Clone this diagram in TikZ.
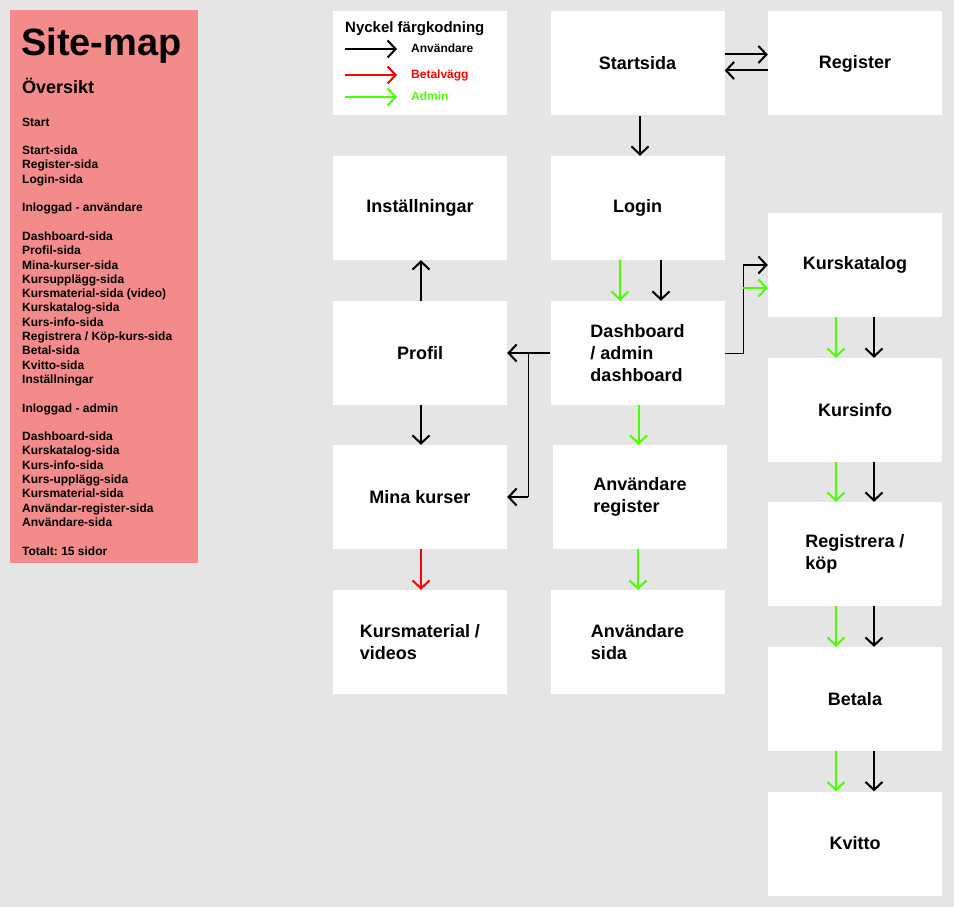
\documentclass[tikz,border=0pt]{standalone}
\usepackage{fontspec}
\setmainfont{Liberation Sans}
\usetikzlibrary{arrows.meta}
\frenchspacing
\definecolor{mapbg}{HTML}{E5E5E5}
\definecolor{panelred}{HTML}{F28B8A}
\definecolor{admingreen}{HTML}{4CFF00}
\tikzset{
	page node/.style={rectangle, fill=white, minimum width=174pt, minimum height=104pt, inner sep=0, align=left, font=\fontsize{18}{22}\selectfont\bfseries},
	key node/.style={rectangle, fill=white, minimum width=174pt, minimum height=104pt, inner sep=0},
	side panel/.style={rectangle, fill=panelred, minimum width=188pt, minimum height=553pt, inner sep=0},
	key label/.style={anchor=base west, inner sep=0, font=\fontsize{12}{14}\selectfont\bfseries},
	user arrow/.style={draw=black, line width=2pt, -{Straight Barb[length=8pt,width=17pt]}},
	admin arrow/.style={user arrow, draw=admingreen},
	pay arrow/.style={user arrow, draw=red},
	link line/.style={draw=black, line width=1pt},
}

\begin{document}
\begin{tikzpicture}[x=1pt, y=-1pt]
	\fill[mapbg] (0,0) rectangle (954,907);
	\useasboundingbox (0,0) rectangle (954,907);

	% overview panel
	\node[side panel] (panel) at (104,286.5) {};
	\node[anchor=base west, inner sep=0, font=\fontsize{38}{44}\selectfont\bfseries] (title) at (21,56) {Site-map};
	\node[anchor=base west, inner sep=0, font=\fontsize{18}{22}\selectfont\bfseries] (overview) at (22,94) {Översikt};
	\node[anchor=north west, inner sep=0, align=left, font=\fontsize{12}{14.3}\selectfont\bfseries] (pagelist) at (22,117.5) {%
		Start\\[14.3pt]
		Start-sida\\
		Register-sida\\
		Login-sida\\[14.3pt]
		Inloggad - användare\\[14.3pt]
		Dashboard-sida\\
		Profil-sida\\
		Mina-kurser-sida\\
		Kursupplägg-sida\\
		Kursmaterial-sida (video)\\
		Kurskatalog-sida\\
		Kurs-info-sida\\
		Registrera / Köp-kurs-sida\\
		Betal-sida\\
		Kvitto-sida\\
		Inställningar\\[14.3pt]
		Inloggad - admin\\[14.3pt]
		Dashboard-sida\\
		Kurskatalog-sida\\
		Kurs-info-sida\\
		Kurs-upplägg-sida\\
		Kursmaterial-sida\\
		Användar-register-sida\\
		Användare-sida\\[14.3pt]
		Totalt: 15 sidor};

	% colour key
	\node[key node] (key) at (420,63) {};
	\node[anchor=base west, inner sep=0, font=\fontsize{15}{18}\selectfont\bfseries] (keytitle) at (345,33) {Nyckel färgkodning};
	\node[key label] (keyuser) at (411,53) {Användare};
	\node[key label, text=red] (keypay) at (411,79) {Betalvägg};
	\node[key label, text=admingreen] (keyadmin) at (411,101) {Admin};
	\draw[user arrow] ([xshift=-66pt,yshift=4pt]keyuser.base west) -- ([xshift=-14pt,yshift=4pt]keyuser.base west);
	\draw[pay arrow] ([xshift=-66pt,yshift=4pt]keypay.base west) -- ([xshift=-14pt,yshift=4pt]keypay.base west);
	\draw[admin arrow] ([xshift=-66pt,yshift=4pt]keyadmin.base west) -- ([xshift=-14pt,yshift=4pt]keyadmin.base west);

	% pages
	\node[page node] (start) at (637.5,63.5) {Startsida};
	\node[page node] (register) at (855,63.5) {Register};
	\node[page node] (inst) at (420,208) {Inställningar};
	\node[page node] (login) at (637.5,208) {Login};
	\node[page node] (katalog) at (855,265) {Kurskatalog};
	\node[page node] (profil) at (420,353) {Profil};
	\node[page node] (dash) at (637.5,353) {Dashboard\\/ admin\\dashboard};
	\node[page node] (kursinfo) at (855,410) {Kursinfo};
	\node[page node] (mina) at (420,497) {Mina kurser};
	\node[page node] (anvreg) at (640,497) {Användare\\register};
	\node[page node] (regkop) at (855,554) {Registrera /\\köp};
	\node[page node] (material) at (420,642) {Kursmaterial /\\videos};
	\node[page node] (anvsida) at (637.5,642) {Användare\\sida};
	\node[page node] (betala) at (855,699) {Betala};
	\node[page node] (kvitto) at (855,843.5) {Kvitto};

	% connectors
	\draw[user arrow] ([yshift=9pt]start.east) -- ([yshift=9pt]register.west);
	\draw[user arrow] ([yshift=-7pt]register.west) -- ([yshift=-7pt]start.east);
	\draw[user arrow] ([xshift=2.5pt]start.south) -- ([xshift=2.5pt]login.north);
	\draw[admin arrow] ([xshift=-17.5pt]login.south) -- ([xshift=-17.5pt]dash.north);
	\draw[user arrow] ([xshift=23.5pt]login.south) -- ([xshift=23.5pt]dash.north);

	\coordinate (katjoint) at ([xshift=18.5pt]dash.east);
	\coordinate (katup) at (katjoint |- katalog.west);
	\draw[link line] (dash.east) -- (katjoint) -- (katup);
	\draw[user arrow] (katup) -- (katalog.west);
	\draw[admin arrow] ([yshift=-23pt]katup) -- ([yshift=-23pt]katalog.west);

	\draw[user arrow] (dash.west) -- (profil.east);
	\coordinate (minajoint) at ([xshift=-22pt]dash.west);
	\coordinate (minaend) at (minajoint |- mina.east);
	\draw[link line] (minajoint) -- (minaend);
	\draw[user arrow] (minaend) -- (mina.east);

	\draw[admin arrow] ([xshift=1pt]dash.south) -- ([xshift=1pt]dash.south |- anvreg.north);
	\draw[admin arrow] ([xshift=-2pt]anvreg.south) -- ([xshift=-2pt]anvreg.south |- anvsida.north);

	\draw[user arrow] ([xshift=1pt]profil.north) -- ([xshift=1pt]inst.south);
	\draw[user arrow] ([xshift=1pt]profil.south) -- ([xshift=1pt]mina.north);
	\draw[pay arrow] ([xshift=1pt]mina.south) -- ([xshift=1pt]material.north);

	\draw[admin arrow] ([xshift=-19pt]katalog.south) -- ([xshift=-19pt]kursinfo.north);
	\draw[user arrow] ([xshift=19pt]katalog.south) -- ([xshift=19pt]kursinfo.north);
	\draw[admin arrow] ([xshift=-19pt]kursinfo.south) -- ([xshift=-19pt]regkop.north);
	\draw[user arrow] ([xshift=19pt]kursinfo.south) -- ([xshift=19pt]regkop.north);
	\draw[admin arrow] ([xshift=-19pt]regkop.south) -- ([xshift=-19pt]betala.north);
	\draw[user arrow] ([xshift=19pt]regkop.south) -- ([xshift=19pt]betala.north);
	\draw[admin arrow] ([xshift=-19pt]betala.south) -- ([xshift=-19pt]kvitto.north);
	\draw[user arrow] ([xshift=19pt]betala.south) -- ([xshift=19pt]kvitto.north);
\end{tikzpicture}
\end{document}
